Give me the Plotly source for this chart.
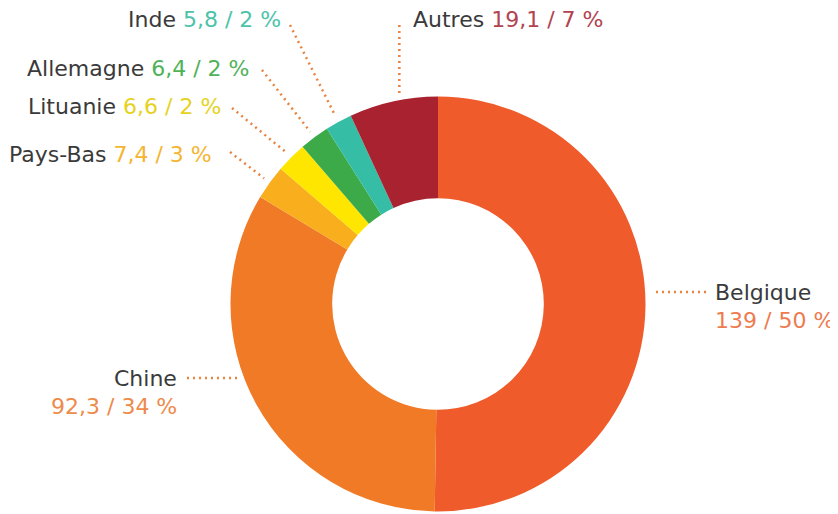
import math
import plotly.graph_objects as go

# ---- data ----
countries = ["Belgique", "Chine", "Pays-Bas", "Lituanie", "Allemagne", "Inde", "Autres"]
values = [139, 92.3, 7.4, 6.6, 6.4, 5.8, 19.1]
pct_labels = ["50 %", "34 %", "3 %", "2 %", "2 %", "2 %", "7 %"]
slice_colors = ["#EF5B2A", "#F07A26", "#F9AE1E", "#FFE600", "#3DAA49", "#35BDA5", "#A8232F"]
value_colors = ["#EE7B50", "#EE8A4A", "#F4B530", "#E6D21E", "#4FB257", "#4CC3AA", "#B2434F"]

W, H = 838, 514
OFF = 8  # page body margin offset
CX, CY, R = 438 - OFF, 304 - OFF, 207.5
HOLE = 0.51
LEAD = "#E8823F"
TXT = "#3A3A3A"
FONT = "DejaVu Sans"
FS = 22

def fmt(v):
    return ("%g" % v).replace(".", ",")

# label layout (pixel in screenshot coords): anchor x, centre y, xanchor, mode
label_layout = {
    "Belgique": dict(x=713, y=292, xanchor="left", mode="h2", lead_x=706),
    "Chine": dict(x=179, y=378, xanchor="right", mode="h2", lead_x=187),
    "Pays-Bas": dict(x=214, y=154, xanchor="right", mode="diag", lead=(230, 152)),
    "Lituanie": dict(x=223, y=106, xanchor="right", mode="diag", lead=(232, 108)),
    "Allemagne": dict(x=251, y=68, xanchor="right", mode="diag", lead=(262, 70)),
    "Inde": dict(x=283, y=19, xanchor="right", mode="diag", lead=(290, 25)),
    "Autres": dict(x=411, y=19, xanchor="left", mode="vert", lead_y=25),
}

def px2paper(x, y):
    return x / W, 1 - y / H

fig = go.Figure(go.Pie(
    labels=countries, values=values, sort=False, direction="clockwise", rotation=0,
    hole=HOLE, marker=dict(colors=slice_colors, line=dict(width=0)),
    textinfo="none", hoverinfo="label+value", showlegend=False,
    domain=dict(x=[(CX - R) / W, (CX + R) / W], y=[1 - (CY + R) / H, 1 - (CY - R) / H]),
))

total = sum(values)
cum = 0
annotations = []
shapes = []

def ann(x, y, xanchor, text, color):
    return dict(x=(x - OFF) / W, y=1 - (y - OFF) / H, xref="paper", yref="paper",
                xanchor=xanchor, yanchor="middle", text=text, showarrow=False,
                font=dict(family=FONT, size=FS, color=color))

for name, v, pc, vc in zip(countries, values, pct_labels, value_colors):
    mid = (cum + v / 2) / total * 2 * math.pi
    cum += v
    L = label_layout[name]
    gap = 7
    if L["mode"] == "diag":
        ex = CX + (R + gap) * math.sin(mid)
        ey = CY - (R + gap) * math.cos(mid)
        sx, sy = L["lead"][0] - OFF, L["lead"][1] - OFF
        text = f"{name} <span style='color:{vc}'>{fmt(v)} / {pc}</span>"
        annotations.append(ann(L["x"], L["y"], L["xanchor"], text, TXT))
    elif L["mode"] == "h2":
        ly = L["y"] - OFF
        dy = ly - CY
        dx = math.sqrt(R * R - dy * dy)
        side = 1 if math.sin(mid) > 0 else -1
        ex = CX + side * (dx + gap)
        ey = ly
        sx, sy = L["lead_x"] - OFF, ly
        annotations.append(ann(L["x"], L["y"], L["xanchor"], name, TXT))
        annotations.append(ann(L["x"], L["y"] + 28, L["xanchor"], f"{fmt(v)} / {pc}", vc))
    else:  # vertical
        sx = CX + R * math.sin(mid) + 6
        ddx = sx - CX
        ex = sx
        ey = CY - math.sqrt(R * R - ddx * ddx) - gap
        sy = L["lead_y"] - OFF
        text = f"{name} <span style='color:{vc}'>{fmt(v)} / {pc}</span>"
        annotations.append(ann(L["x"], L["y"], L["xanchor"], text, TXT))
    x0, y0 = px2paper(sx, sy)
    x1, y1 = px2paper(ex, ey)
    shapes.append(dict(type="line", xref="paper", yref="paper", x0=x0, y0=y0, x1=x1, y1=y1,
                       line=dict(color=LEAD, width=2.5, dash="2px,4px")))

fig.update_layout(
    width=W, height=H, margin=dict(l=0, r=0, t=0, b=0),
    paper_bgcolor="white", plot_bgcolor="white",
    annotations=annotations, shapes=shapes,
)
fig.write_html("out.html")
